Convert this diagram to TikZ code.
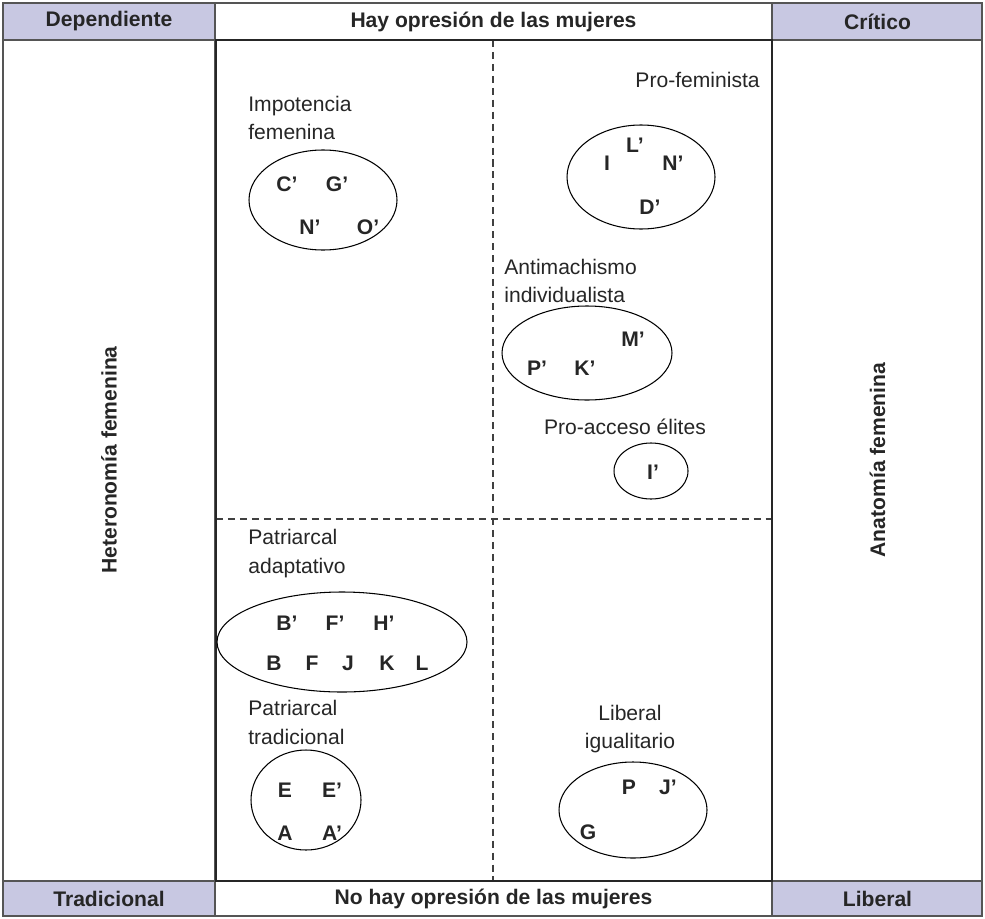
\documentclass[tikz,border=0pt]{standalone}
\usepackage{fontspec}
\setmainfont{Liberation Sans}
\definecolor{CeldaLila}{RGB}{200,200,226}
\definecolor{BordeGris}{RGB}{85,85,85}

\begin{document}
\begin{tikzpicture}[
                % Style celdas de cabecera (lila)
                headcell/.style={draw=BordeGris, line width=0.6pt, fill=CeldaLila},
                % Style textos de cabecera
                headtext/.style={font=\bfseries\fontsize{12}{14}\selectfont, text=black!85, inner sep=0pt},
                % Style marco interior (grueso)
                frame/.style={draw=black!85, line width=1.4pt},
                % Style divisiones punteadas
                divline/.style={draw=black!75, line width=0.6pt, dash pattern=on 4pt off 2.8pt},
                % Style grupos (elipses)
                group/.style={draw=black, line width=0.6pt},
                % Style nombres de grupo
                glabel/.style={font=\fontsize{12}{16}\selectfont, text=black!85, align=left, inner sep=0pt},
                % Style letras dentro de elipses
                letra/.style={font=\bfseries\fontsize{12}{14}\selectfont, text=black!85, inner sep=0pt}
            ]
                \useasboundingbox (0, 0) rectangle (19.7, -18.36);

                % --- MARCO Y CELDAS ---
                \draw[BordeGris, line width=0.6pt] (0.06, -0.06) rectangle (19.64, -18.32);
                \draw[BordeGris, line width=0.6pt] (0.06, -0.80) -- (19.64, -0.80);
                \draw[BordeGris, line width=0.6pt] (0.06, -17.62) -- (19.64, -17.62);
                \draw[BordeGris, line width=0.6pt] (4.30, -0.06) -- (4.30, -18.32);
                \draw[BordeGris, line width=0.6pt] (15.44, -0.06) -- (15.44, -18.32);
                \path[headcell] (0.06, -0.06) rectangle (4.30, -0.80);
                \path[headcell] (15.44, -0.06) rectangle (19.64, -0.80);
                \path[headcell] (0.06, -17.62) rectangle (4.30, -18.32);
                \path[headcell] (15.44, -17.62) rectangle (19.64, -18.32);

                % Divisiones punteadas
                \draw[divline] (9.86, -0.80) -- (9.86, -17.62);
                \draw[divline] (4.32, -10.38) -- (15.44, -10.38);

                % Marco interior
                \draw[frame] (4.32, -0.80) rectangle (15.44, -17.62);

                % --- TEXTOS DE CABECERA ---
                \node[headtext] (dep) at (2.18, -0.43) {Dependiente};
                \node[headtext] (hay) at (9.87, -0.43) {Hay opresión de las mujeres};
                \node[headtext] (cri) at (17.55, -0.43) {Crítico};
                \node[headtext] (tra) at (2.18, -17.97) {Tradicional};
                \node[headtext] (nohay) at (9.87, -17.97) {No hay opresión de las mujeres};
                \node[headtext] (lib) at (17.55, -17.97) {Liberal};

                % Ejes laterales
                \node[headtext, rotate=90] (hete) at (2.18, -9.20) {Heteronomía femenina};
                \node[headtext, rotate=90] (anat) at (17.55, -9.20) {Anatomía femenina};

                % --- GRUPOS ---
                % Impotencia femenina
                \node[glabel, anchor=west] (limp) at (4.96, -2.36) {Impotencia\\femenina};
                \draw[group] (6.46, -4.00) ellipse (1.48 and 1.00);
                \node[letra] (imC) at (5.74, -3.68) {C'};
                \node[letra] (imG) at (6.74, -3.68) {G'};
                \node[letra] (imN) at (6.20, -4.54) {N'};
                \node[letra] (imO) at (7.36, -4.54) {O'};

                % Pro-feminista
                \node[glabel, anchor=east] (lpf) at (15.20, -1.60) {Pro-feminista};
                \draw[group] (12.82, -3.54) ellipse (1.48 and 1.04);
                \node[letra] (pfI) at (12.14, -3.26) {I};
                \node[letra] (pfL) at (12.70, -2.90) {L'};
                \node[letra] (pfN) at (13.46, -3.26) {N'};
                \node[letra] (pfD) at (13.00, -4.14) {D'};

                % Antimachismo individualista
                \node[glabel, anchor=west] (lam) at (10.08, -5.62) {Antimachismo\\individualista};
                \draw[group] (11.74, -7.06) ellipse (1.70 and 0.94);
                \node[letra] (amM) at (12.66, -6.78) {M'};
                \node[letra] (amP) at (10.74, -7.36) {P'};
                \node[letra] (amK) at (11.70, -7.36) {K'};

                % Pro-acceso élites
                \node[glabel] (lpe) at (12.50, -8.54) {Pro-acceso élites};
                \draw[group] (13.02, -9.42) ellipse (0.74 and 0.56);
                \node[letra] (peI) at (13.06, -9.44) {I'};

                % Patriarcal adaptativo
                \node[glabel, anchor=west] (lpa) at (4.96, -11.07) {Patriarcal\\adaptativo};
                \draw[group] (6.84, -12.84) ellipse (2.50 and 1.00);
                \node[letra] (paBp) at (5.74, -12.46) {B'};
                \node[letra] (paFp) at (6.70, -12.46) {F'};
                \node[letra] (paHp) at (7.68, -12.46) {H'};
                \node[letra] (paB) at (5.48, -13.26) {B};
                \node[letra] (paF) at (6.24, -13.26) {F};
                \node[letra] (paJ) at (6.96, -13.26) {J};
                \node[letra] (paK) at (7.74, -13.26) {K};
                \node[letra] (paL) at (8.44, -13.26) {L};

                % Patriarcal tradicional
                \node[glabel, anchor=west] (lpt) at (4.96, -14.45) {Patriarcal\\tradicional};
                \draw[group] (6.12, -16.00) ellipse (1.10 and 1.00);
                \node[letra] (ptE) at (5.70, -15.80) {E};
                \node[letra] (ptEp) at (6.64, -15.80) {E'};
                \node[letra] (ptA) at (5.70, -16.66) {A};
                \node[letra] (ptAp) at (6.64, -16.66) {A'};

                % Liberal igualitario
                \node[glabel, align=center] (lli) at (12.60, -14.58) {Liberal\\igualitario};
                \draw[group] (12.66, -16.20) ellipse (1.48 and 0.96);
                \node[letra] (liP) at (12.58, -15.74) {P};
                \node[letra] (liJ) at (13.36, -15.74) {J'};
                \node[letra] (liG) at (11.76, -16.64) {G};

            \end{tikzpicture}
\end{document}
